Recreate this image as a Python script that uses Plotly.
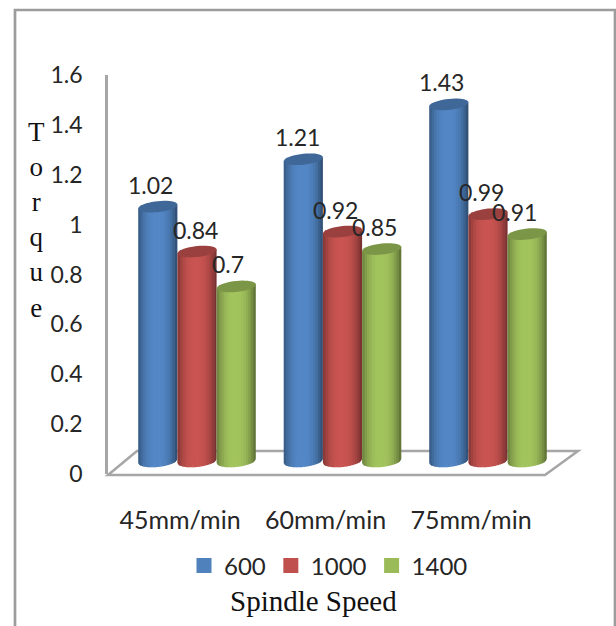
import math
import plotly.graph_objects as go

categories = ["45mm/min", "60mm/min", "75mm/min"]
series_names = ["600", "1000", "1400"]
values_600 = [1.02, 1.21, 1.43]
values_1000 = [0.84, 0.92, 0.99]
values_1400 = [0.70, 0.85, 0.91]
y_ticks = [0, 0.2, 0.4, 0.6, 0.8, 1, 1.2, 1.4, 1.6]
y_tick_labels = ["0", "0.2", "0.4", "0.6", "0.8", "1", "1.2", "1.4", "1.6"]
series_values = [values_600, values_1000, values_1400]
base_colors = [(79, 129, 189), (192, 80, 77), (155, 187, 89)]

W, H = 616, 626
L, R, T, B = 108, 580, 75, 474       # plot area in pixels
PX_X = 145.5                          # pixels per category
PX_Y = (B - T) / 1.6                  # pixels per value unit
BAR_SLOT = 39.2 / PX_X
LABEL_CX, BAR_CX, BAR_BASE = 180, 197, 461
GRAY = "#a6a6a6"
SANS = "Lato, 'Open Sans', sans-serif"
SERIF = "'Liberation Serif', serif"

x_range = [(L - LABEL_CX) / PX_X, (R - LABEL_CX) / PX_X]
x2_range = [(L - BAR_CX) / PX_X, (R - BAR_CX) / PX_X]
y2_low = -(B - BAR_BASE) / PX_Y
y2_range = [y2_low, y2_low + 1.6]


def px(xp, yp):
    return (xp - L) / (R - L), (B - yp) / (B - T)


def shade(rgb, f):
    return "rgb(%d,%d,%d)" % tuple(min(255, round(c * f)) for c in rgb)


def poly(points):
    return "M" + "L".join(f"{x:.4f},{y:.4f}" for x, y in points) + "Z"


fig = go.Figure()
# invisible carrier so the tick-label axes exist
fig.add_trace(go.Scatter(x=[0, 1, 2], y=[0, 0, 0], xaxis="x", yaxis="y", mode="markers",
                         marker=dict(opacity=0), showlegend=False, hoverinfo="skip"))

shapes = []
# frame
fx0, fy0 = px(15, 10)
fx1, fy1 = px(615, 650)
shapes.append(dict(type="rect", xref="paper", yref="paper", x0=fx0, y0=fy0, x1=fx1, y1=fy1,
                   line=dict(color="#9c9c9c", width=2.7), fillcolor="rgba(0,0,0,0)", layer="below"))
# floor
floor = [px(108, 475), px(137, 451), px(578, 451), px(545, 475)]
shapes.append(dict(type="path", xref="paper", yref="paper", path=poly(floor),
                   line=dict(color=GRAY, width=2.5), layer="below"))

TILT = 2 / PX_Y
CAP_H = 5.5 / PX_Y
BOT_H = 6.0 / PX_Y
N = 16
half = BAR_SLOT / 2

for i, cat in enumerate(categories):
    for s, vals in enumerate(series_values):
        v = vals[i]
        cx = i + (s - 1) * BAR_SLOT
        rgb = base_colors[s]
        for k in range(N):
            u0 = -1 + 2 * k / N
            u1 = -1 + 2 * (k + 1) / N
            um = (u0 + u1) / 2
            f = 0.62 + 0.43 * (1 - abs(um + 0.05) ** 2.5)
            ue = min(1, u1 + 0.03)
            pts = []
            steps = 3
            for j in range(steps + 1):
                u = u0 + (ue - u0) * j / steps
                pts.append((cx + u * half, TILT * u - BOT_H * math.sqrt(max(0, 1 - u * u))))
            pts.append((cx + ue * half, v + TILT * ue))
            pts.append((cx + u0 * half, v + TILT * u0))
            shapes.append(dict(type="path", xref="x2", yref="y2", path=poly(pts),
                               fillcolor=shade(rgb, f), line=dict(width=0), layer="above"))
        cap = []
        for j in range(40):
            a = 2 * math.pi * j / 40
            u = math.cos(a)
            cap.append((cx + u * half, v + TILT * u + CAP_H * math.sin(a)))
        shapes.append(dict(type="path", xref="x2", yref="y2", path=poly(cap),
                           fillcolor=shade(rgb, 0.8), line=dict(width=0), layer="above"))

for s, vals in enumerate(series_values):
    fig.add_trace(go.Bar(
        x=[0, 1, 2], y=vals, name=series_names[s], xaxis="x2", yaxis="y2",
        width=BAR_SLOT * 0.8, offset=(s - 1) * BAR_SLOT - BAR_SLOT * 0.4,
        marker=dict(color=shade(base_colors[s], 1.0),
                    line=dict(width=3, color=shade(base_colors[s], 1.0))),
    ))

label_dx = [[-7, -6, -7], [-2, -7, -7], [-8, -7, -13]]
annotations = []
for s, vals in enumerate(series_values):
    for i, v in enumerate(vals):
        annotations.append(dict(
            x=i + (s - 1) * BAR_SLOT, y=v, xref="x2", yref="y2", text=f"{v:g}", showarrow=False,
            xshift=label_dx[s][i], yshift=22, font=dict(family=SANS, size=23, color="#262626"),
        ))
tx, ty = px(36, 220)
annotations.append(dict(x=tx, y=ty, xref="paper", yref="paper", showarrow=False, align="center",
                        xanchor="center", yanchor="middle",
                        text="T<br>o<br>r<br>q<br>u<br>e",
                        font=dict(family=SERIF, size=27, color="#111111")))
sx, sy = px(313, 601)
annotations.append(dict(x=sx, y=sy, xref="paper", yref="paper", showarrow=False,
                        xanchor="center", yanchor="middle",
                        text="Spindle Speed", font=dict(family=SERIF, size=29, color="#111111")))

lx, ly = px(184, 566)
fig.update_layout(
    width=W, height=H,
    margin=dict(l=L, r=W - R, t=T, b=H - B, pad=0, autoexpand=False),
    paper_bgcolor="white", plot_bgcolor="rgba(0,0,0,0)",
    barmode="overlay", shapes=shapes, annotations=annotations,
    xaxis=dict(range=x_range, tickvals=[0, 1, 2], ticktext=categories, showgrid=False, zeroline=False,
               showline=False, ticks="", ticklabelstandoff=29, tickfont=dict(family=SANS, size=25, color="#262626")),
    yaxis=dict(range=[0, 1.6], tickvals=y_ticks, ticktext=y_tick_labels, showgrid=False, zeroline=False,
               showline=True, linecolor=GRAY, linewidth=2.5, ticks="", ticklabelstandoff=18,
               tickfont=dict(family=SANS, size=23, color="#262626")),
    xaxis2=dict(range=x2_range, overlaying="x", visible=False),
    yaxis2=dict(range=y2_range, overlaying="y", visible=False),
    legend=dict(orientation="h", x=lx, y=ly, xanchor="left", yanchor="middle",
                font=dict(family=SANS, size=24, color="#262626"), bgcolor="rgba(0,0,0,0)"),
    showlegend=True,
)
fig.write_html("out.html", config={"displayModeBar": False},
               post_script="document.body.style.margin='0';document.documentElement.style.overflow='hidden';")
